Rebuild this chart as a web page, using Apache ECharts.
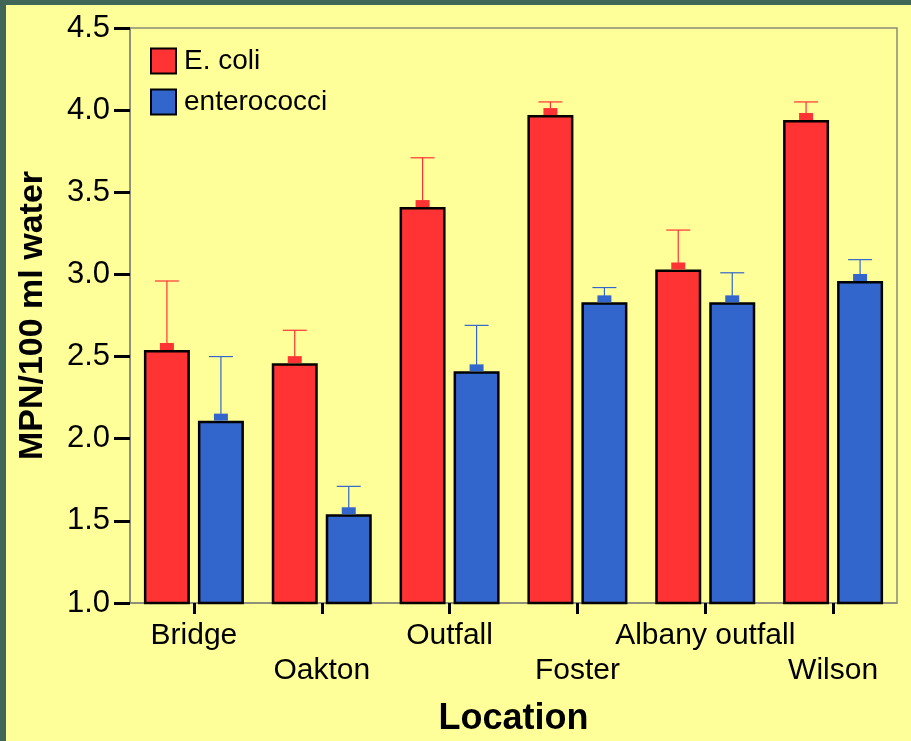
<!DOCTYPE html>
<html>
<head>
<meta charset="utf-8">
<script src="https://cdn.jsdelivr.net/npm/echarts@6/dist/echarts.min.js"></script>
<style>
  html, body { margin: 0; padding: 0; background: #FFFF99; }
  #chart { position: absolute; left: 0; top: 0; width: 911px; height: 741px; }
  .strip { position: absolute; background: #3F6656; z-index: 5; }
</style>
</head>
<body>
<div id="chart"></div>
<div class="strip" style="left:0;top:0;width:6px;height:741px;"></div>
<div class="strip" style="left:0;top:0;width:911px;height:5px;"></div>
<script>
const categories = ['Bridge', 'Oakton', 'Outfall', 'Foster', 'Albany outfall', 'Wilson'];
const ecoli = [2.54, 2.46, 3.41, 3.97, 3.03, 3.94];
const ecoliUpper = [2.96, 2.66, 3.71, 4.05, 3.27, 4.05];
const entero = [2.11, 1.54, 2.41, 2.83, 2.83, 2.96];
const enteroUpper = [2.50, 1.71, 2.69, 2.92, 3.01, 3.09];
const yTicks = [1.0, 1.5, 2.0, 2.5, 3.0, 3.5, 4.0, 4.5];

const RED = '#FF3333', BLUE = '#3366CC';
const BAR_W = 46, BAR_GAP = 8;
const FONT = '"Liberation Sans", Arial, sans-serif';

function errSeries(name, vals, uppers, color, offset) {
  return {
    type: 'custom',
    name: name,
    z: 5,
    data: vals.map((v, i) => [i, v, uppers[i]]),
    renderItem: function (params, api) {
      const base = api.coord([api.value(0), api.value(1)]);
      const top = api.coord([api.value(0), api.value(2)]);
      const x = base[0] + offset;
      return {
        type: 'group',
        children: [
          { type: 'line', shape: { x1: x, y1: base[1], x2: x, y2: top[1] }, style: { stroke: color, lineWidth: 1.2 } },
          { type: 'line', shape: { x1: x - 12, y1: top[1], x2: x + 12, y2: top[1] }, style: { stroke: color, lineWidth: 1.2 } },
          { type: 'rect', shape: { x: x - 7, y: base[1] - 7, width: 14, height: 7 }, style: { fill: color } }
        ]
      };
    }
  };
}

const chart = echarts.init(document.getElementById('chart'));
chart.setOption({
  backgroundColor: '#FFFF99',
  animation: false,
  grid: { left: 130, right: 14, top: 28, bottom: 138, outerBoundsMode: 'none', containLabel: false,
          show: true, borderColor: '#8A8A7A', borderWidth: 1.5, backgroundColor: 'transparent' },
  legend: {
    data: ['E. coli', 'enterococci'],
    orient: 'vertical',
    left: 150, top: 47, padding: 0,
    itemWidth: 25, itemHeight: 25, itemGap: 13,
    icon: 'rect',
    textStyle: { fontFamily: FONT, fontSize: 28, color: '#000', padding: [0, 0, 0, 3] }
  },
  xAxis: {
    type: 'category',
    data: categories,
    name: 'Location',
    nameLocation: 'middle',
    nameGap: 98,
    nameTextStyle: { fontFamily: FONT, fontSize: 36, fontWeight: 'bold', color: '#000' },
    axisLine: { show: true, lineStyle: { color: '#8A8A7A', width: 1.5 } },
    axisTick: { show: true, alignWithLabel: true, length: 11, lineStyle: { color: '#000', width: 3 } },
    axisLabel: {
      fontFamily: FONT, fontSize: 30, color: '#000', margin: 15, lineHeight: 35,
      interval: 0,
      formatter: function (v, i) { return i % 2 ? '\n' + v : v; }
    }
  },
  yAxis: {
    type: 'value',
    min: 1.0, max: 4.5, interval: 0.5,
    name: 'MPN/100 ml water',
    nameLocation: 'middle',
    nameGap: 80,
    nameRotate: 90,
    nameTextStyle: { fontFamily: FONT, fontSize: 34, fontWeight: 'bold', color: '#000' },
    splitLine: { show: false },
    axisLine: { show: true, lineStyle: { color: '#8A8A7A', width: 1.5 } },
    axisTick: { show: true, length: 16, lineStyle: { color: '#000', width: 3 } },
    axisLabel: {
      fontFamily: FONT, fontSize: 31, color: '#000', margin: 20,
      formatter: function (v) { return yTicks.includes(v) ? v.toFixed(1) : ''; }
    }
  },
  series: [
    { type: 'bar', name: 'E. coli', data: ecoli, barWidth: BAR_W, barGap: (BAR_GAP / BAR_W * 100) + '%',
      itemStyle: { color: RED, borderColor: '#000', borderWidth: 2.5 } },
    { type: 'bar', name: 'enterococci', data: entero, barWidth: BAR_W,
      itemStyle: { color: BLUE, borderColor: '#000', borderWidth: 2.5 } },
    errSeries('ecoliErr', ecoli, ecoliUpper, RED, -(BAR_W + BAR_GAP) / 2),
    errSeries('enteroErr', entero, enteroUpper, BLUE, (BAR_W + BAR_GAP) / 2)
  ]
});
</script>
</body>
</html>
